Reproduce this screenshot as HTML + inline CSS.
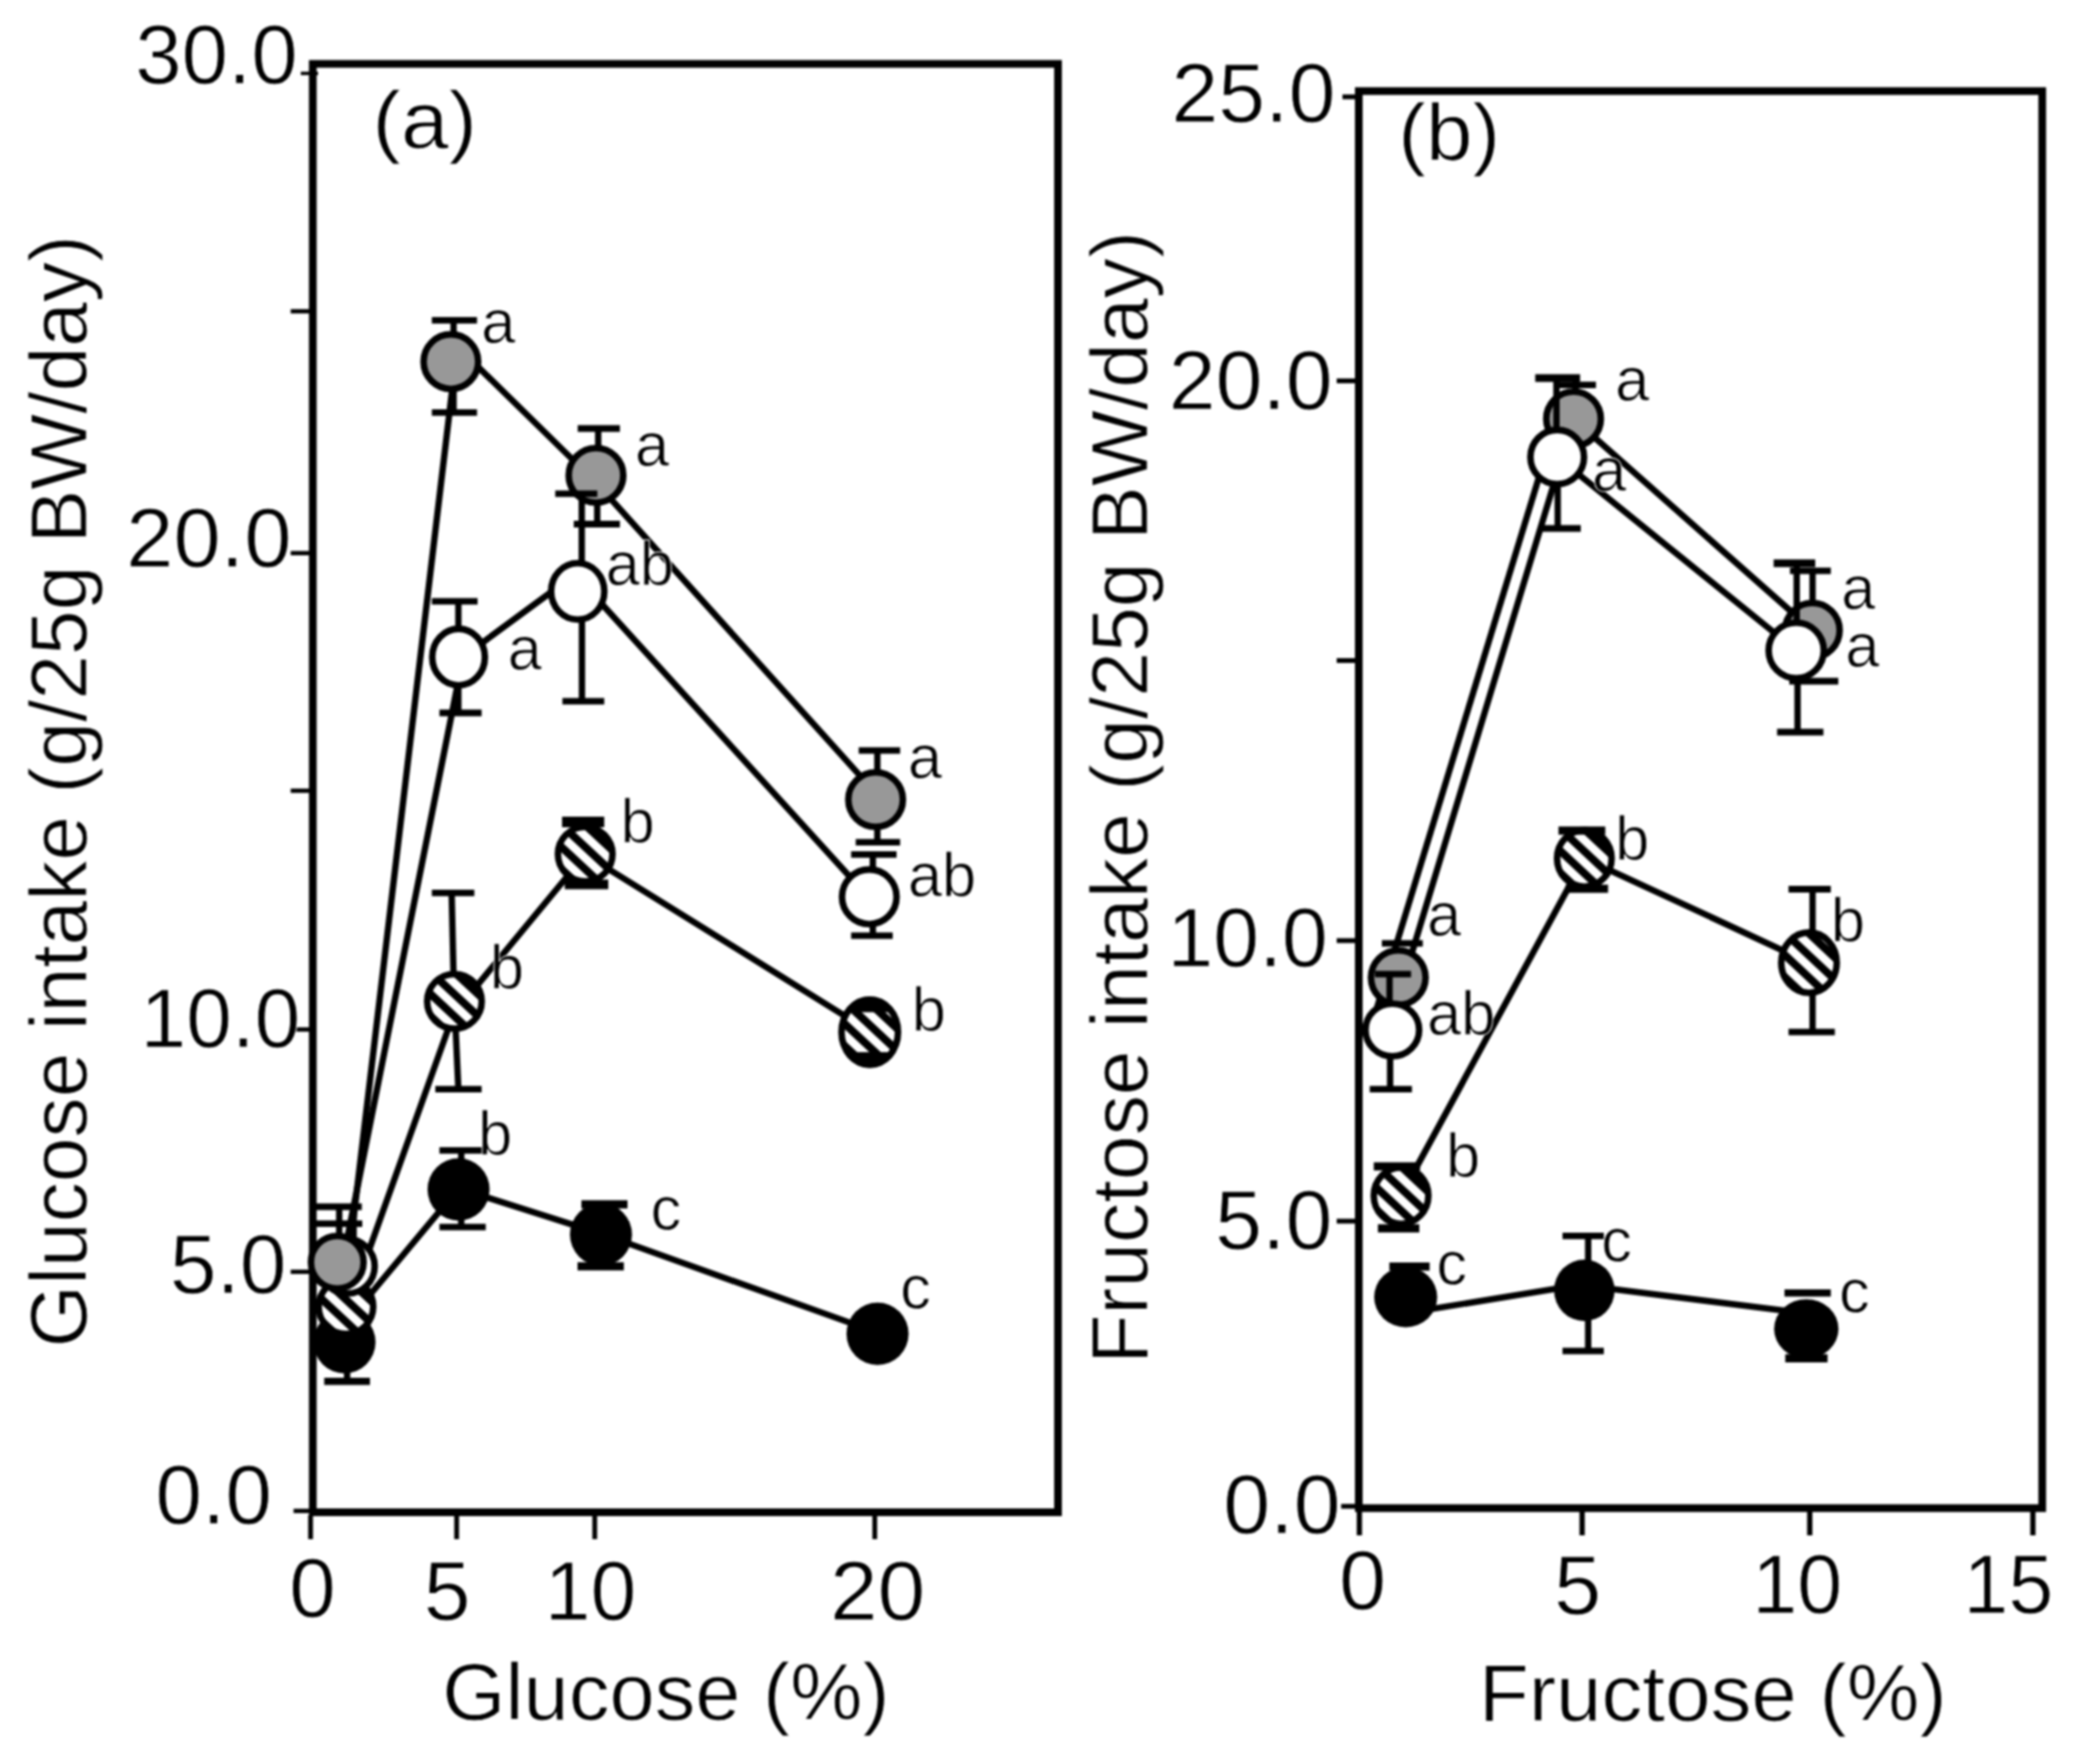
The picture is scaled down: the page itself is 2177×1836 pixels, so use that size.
<!DOCTYPE html>
<html lang="en"><head><meta charset="utf-8"><title>Glucose and fructose intake</title>
<style>html,body{margin:0;padding:0;background:#fff}body{width:2177px;height:1836px;overflow:hidden}svg{display:block;filter:blur(0.8px)}text{font-family:"Liberation Sans",sans-serif;fill:#000;stroke:#fff;stroke-width:0.9px}</style></head><body>
<svg width="2177" height="1836" viewBox="0 0 2177 1836" stroke="#000" fill="none">
<rect x="0" y="0" width="2177" height="1836" fill="#fff" stroke="none"/>
<g id="panel-a">
<rect x="325.5" y="66.5" width="775.5" height="1507.5" stroke-width="8"/>
<line x1="302.5" y1="324" x2="322" y2="324" stroke-width="4.5" stroke-linecap="butt"/>
<line x1="302.5" y1="575.7" x2="322" y2="575.7" stroke-width="4.5" stroke-linecap="butt"/>
<line x1="302.5" y1="823" x2="322" y2="823" stroke-width="4.5" stroke-linecap="butt"/>
<line x1="302.5" y1="1071.5" x2="322" y2="1071.5" stroke-width="4.5" stroke-linecap="butt"/>
<line x1="302.5" y1="1323.7" x2="322" y2="1323.7" stroke-width="4.5" stroke-linecap="butt"/>
<line x1="305.5" y1="1572.6" x2="322" y2="1572.6" stroke-width="4.5" stroke-linecap="butt"/>
<line x1="313" y1="76.4" x2="331" y2="76.4" stroke-width="3.5" stroke-linecap="butt"/>
<line x1="323.2" y1="1577" x2="323.2" y2="1602" stroke-width="5" stroke-linecap="butt"/>
<line x1="475.2" y1="1577" x2="475.2" y2="1602" stroke-width="5" stroke-linecap="butt"/>
<line x1="618.9" y1="1577" x2="618.9" y2="1602" stroke-width="5" stroke-linecap="butt"/>
<line x1="910.3" y1="1577" x2="910.3" y2="1602" stroke-width="5" stroke-linecap="butt"/>
<text transform="translate(140.65,86.50) scale(0.9985,1)" font-size="87">30.0</text>
<text transform="translate(131.18,590.00) scale(1.0170,1)" font-size="87">20.0</text>
<text transform="translate(146.27,1090.00) scale(0.9821,1)" font-size="87">10.0</text>
<text transform="translate(176.68,1346.00) scale(1.0044,1)" font-size="87">5.0</text>
<text transform="translate(161.79,1585.50) scale(1.0026,1)" font-size="87">0.0</text>
<text transform="translate(301.00,1682.50) scale(1.0000,1)" font-size="87">0</text>
<text transform="translate(440.98,1686.00) scale(1.0061,1)" font-size="87">5</text>
<text transform="translate(566.84,1686.00) scale(0.9867,1)" font-size="87">10</text>
<text transform="translate(863.65,1686.00) scale(1.0241,1)" font-size="87">20</text>
<text transform="translate(460.22,1790.00) scale(1.0074,1)" font-size="84">Glucose (%)</text>
<text transform="translate(90.00,1402.43) rotate(-90) scale(0.9959,1)" font-size="84">Glucose intake (g/25g BW/day)</text>
<text transform="translate(387.42,153.50) scale(1.0623,1)" font-size="84">(a)</text>
<polyline points="360,1377.5 477.2,1237 625.4,1284 913.2,1387" stroke-width="6.6" fill="none" stroke-linejoin="round"/>
<polyline points="363,1360 471.9,1055.5 609,889.5 905.1,1073.5" stroke-width="6.6" fill="none" stroke-linejoin="round"/>
<polyline points="356,1316 482,683.6 598.4,598 904.6,934.7" stroke-width="6.6" fill="none" stroke-linejoin="round"/>
<polyline points="362.6,1313 475.9,360.6 620,502 911,825.1" stroke-width="6.6" fill="none" stroke-linejoin="round"/>
<ellipse cx="358.5" cy="1396.9" rx="32.3" ry="32.5" fill="#000" stroke="none"/>
<ellipse cx="477.2" cy="1238" rx="32.3" ry="32.5" fill="#000" stroke="none"/>
<ellipse cx="625.4" cy="1284.9" rx="32.3" ry="32.5" fill="#000" stroke="none"/>
<ellipse cx="913.2" cy="1388.3" rx="32.3" ry="32.5" fill="#000" stroke="none"/>
<g transform="translate(360,1360)"><clipPath id="h360_1360i"><ellipse rx="28.4" ry="28.4"/></clipPath><ellipse rx="28.4" ry="28.4" fill="#fff" stroke="none"/><g clip-path="url(#h360_1360i)"><g transform="rotate(43)" stroke-width="8.2"><line x1="-45" x2="45" y1="-39" y2="-39"/><line x1="-45" x2="45" y1="-22.2" y2="-22.2"/><line x1="-45" x2="45" y1="-5.4" y2="-5.4"/><line x1="-45" x2="45" y1="11.4" y2="11.4"/><line x1="-45" x2="45" y1="28.2" y2="28.2"/></g></g><ellipse rx="28.4" ry="28.4" fill="none" stroke-width="6.8"/></g>
<g transform="translate(472.9,1042.2)"><clipPath id="h472_1042i"><ellipse rx="28.4" ry="28.4"/></clipPath><ellipse rx="28.4" ry="28.4" fill="#fff" stroke="none"/><g clip-path="url(#h472_1042i)"><g transform="rotate(43)" stroke-width="8.2"><line x1="-45" x2="45" y1="-39" y2="-39"/><line x1="-45" x2="45" y1="-22.2" y2="-22.2"/><line x1="-45" x2="45" y1="-5.4" y2="-5.4"/><line x1="-45" x2="45" y1="11.4" y2="11.4"/><line x1="-45" x2="45" y1="28.2" y2="28.2"/></g></g><ellipse rx="28.4" ry="28.4" fill="none" stroke-width="6.8"/></g>
<g transform="translate(609,889)"><clipPath id="h609_889i"><ellipse rx="28.4" ry="28.4"/></clipPath><ellipse rx="28.4" ry="28.4" fill="#fff" stroke="none"/><g clip-path="url(#h609_889i)"><g transform="rotate(43)" stroke-width="8.2"><line x1="-45" x2="45" y1="-39" y2="-39"/><line x1="-45" x2="45" y1="-22.2" y2="-22.2"/><line x1="-45" x2="45" y1="-5.4" y2="-5.4"/><line x1="-45" x2="45" y1="11.4" y2="11.4"/><line x1="-45" x2="45" y1="28.2" y2="28.2"/></g></g><ellipse rx="28.4" ry="28.4" fill="none" stroke-width="6.8"/></g>
<g transform="translate(905.1,1074.3)"><clipPath id="h905_1074i"><ellipse rx="29.4" ry="33.9"/></clipPath><ellipse rx="29.4" ry="33.9" fill="#fff" stroke="none"/><g clip-path="url(#h905_1074i)"><g transform="rotate(43)" stroke-width="8.2"><line x1="-45" x2="45" y1="-39" y2="-39"/><line x1="-45" x2="45" y1="-22.2" y2="-22.2"/><line x1="-45" x2="45" y1="-5.4" y2="-5.4"/><line x1="-45" x2="45" y1="11.4" y2="11.4"/><line x1="-45" x2="45" y1="28.2" y2="28.2"/></g></g><clipPath id="h905_1074o"><ellipse rx="32.8" ry="37.3"/></clipPath><g clip-path="url(#h905_1074o)" fill="#000" stroke="none"><rect x="-45" y="-38.3" width="90" height="17.5"/><rect x="-45" y="20.799999999999997" width="90" height="17.5"/></g><ellipse rx="29.4" ry="33.9" fill="none" stroke-width="6.8"/></g>
<ellipse cx="361.5" cy="1318" rx="28.4" ry="28.4" fill="#fff" stroke-width="6.8"/>
<ellipse cx="477.2" cy="683.9" rx="27.4" ry="29.4" fill="#fff" stroke-width="6.8"/>
<ellipse cx="601.2" cy="615.5" rx="27.7" ry="29.3" fill="#fff" stroke-width="6.8"/>
<ellipse cx="904.6" cy="933.4" rx="28.4" ry="28.4" fill="#fff" stroke-width="6.8"/>
<ellipse cx="351" cy="1313.7" rx="27.4" ry="27.4" fill="#989898" stroke-width="6.8"/>
<ellipse cx="469.2" cy="376.4" rx="28.4" ry="28.4" fill="#989898" stroke-width="6.8"/>
<ellipse cx="620.2" cy="494.8" rx="28.4" ry="28.4" fill="#989898" stroke-width="6.8"/>
<ellipse cx="911.2" cy="832.2" rx="28.4" ry="28.4" fill="#989898" stroke-width="6.8"/>
<line x1="329" y1="1256" x2="376.5" y2="1256" stroke-width="6.8" stroke-linecap="butt"/>
<line x1="329" y1="1273.7" x2="377" y2="1273.7" stroke-width="6.8" stroke-linecap="butt"/>
<line x1="353" y1="1256" x2="353" y2="1284" stroke-width="6.6" stroke-linecap="butt"/>
<line x1="368" y1="1254" x2="368" y2="1290" stroke-width="6.6" stroke-linecap="butt"/>
<line x1="337.4" y1="1437.7" x2="385" y2="1437.7" stroke-width="7.5" stroke-linecap="butt"/>
<line x1="361.2" y1="1425" x2="361.2" y2="1437.7" stroke-width="6.6" stroke-linecap="butt"/>
<line x1="449.4" y1="333.3" x2="496.4" y2="333.3" stroke-width="6.8" stroke-linecap="butt"/>
<line x1="472" y1="333.3" x2="472" y2="348" stroke-width="6.6" stroke-linecap="butt"/>
<line x1="472" y1="405" x2="472" y2="429.4" stroke-width="6.6" stroke-linecap="butt"/>
<line x1="449.4" y1="429.4" x2="496.4" y2="429.4" stroke-width="6.8" stroke-linecap="butt"/>
<line x1="601.2" y1="446" x2="645.1" y2="446" stroke-width="6.8" stroke-linecap="butt"/>
<line x1="622.5" y1="446" x2="622.5" y2="465" stroke-width="6.6" stroke-linecap="butt"/>
<line x1="621.5" y1="524" x2="621.5" y2="545.5" stroke-width="6.6" stroke-linecap="butt"/>
<line x1="597.1" y1="545.5" x2="645.1" y2="545.5" stroke-width="6.8" stroke-linecap="butt"/>
<line x1="893.6" y1="781.2" x2="936.7" y2="781.2" stroke-width="6.8" stroke-linecap="butt"/>
<line x1="913" y1="781.2" x2="913" y2="803" stroke-width="6.6" stroke-linecap="butt"/>
<line x1="913" y1="861" x2="913" y2="876.7" stroke-width="6.6" stroke-linecap="butt"/>
<line x1="890.5" y1="876.7" x2="936.7" y2="876.7" stroke-width="6.8" stroke-linecap="butt"/>
<line x1="449.4" y1="625.8" x2="497" y2="625.8" stroke-width="6.8" stroke-linecap="butt"/>
<line x1="477" y1="625.8" x2="477" y2="654" stroke-width="6.6" stroke-linecap="butt"/>
<line x1="477" y1="713" x2="477" y2="742" stroke-width="6.6" stroke-linecap="butt"/>
<line x1="457.3" y1="742" x2="501.2" y2="742" stroke-width="6.8" stroke-linecap="butt"/>
<line x1="577.8" y1="513.9" x2="621.6" y2="513.9" stroke-width="6.8" stroke-linecap="butt"/>
<line x1="605.4" y1="513.9" x2="605.4" y2="586" stroke-width="6.6" stroke-linecap="butt"/>
<line x1="605.6" y1="645" x2="605.6" y2="729.8" stroke-width="6.6" stroke-linecap="butt"/>
<line x1="585.3" y1="729.8" x2="628.8" y2="729.8" stroke-width="6.8" stroke-linecap="butt"/>
<line x1="885.7" y1="889.4" x2="933" y2="889.4" stroke-width="6.8" stroke-linecap="butt"/>
<line x1="908.3" y1="889.4" x2="908.3" y2="904" stroke-width="6.6" stroke-linecap="butt"/>
<line x1="908.3" y1="962" x2="908.3" y2="973.9" stroke-width="6.6" stroke-linecap="butt"/>
<line x1="885.7" y1="973.9" x2="929" y2="973.9" stroke-width="6.8" stroke-linecap="butt"/>
<line x1="449.4" y1="929.4" x2="493.6" y2="929.4" stroke-width="6.8" stroke-linecap="butt"/>
<line x1="470" y1="929.4" x2="471.9" y2="1012" stroke-width="6.6" stroke-linecap="butt"/>
<line x1="474.2" y1="1072" x2="477" y2="1133.7" stroke-width="6.6" stroke-linecap="butt"/>
<line x1="453" y1="1133.7" x2="501.2" y2="1133.7" stroke-width="6.8" stroke-linecap="butt"/>
<line x1="584.9" y1="855.5" x2="628.8" y2="855.5" stroke-width="11" stroke-linecap="butt"/>
<line x1="587.7" y1="920.5" x2="633" y2="920.5" stroke-width="10" stroke-linecap="butt"/>
<line x1="457.3" y1="1197.4" x2="504" y2="1197.4" stroke-width="6.8" stroke-linecap="butt"/>
<line x1="480" y1="1197.4" x2="480" y2="1210" stroke-width="6.6" stroke-linecap="butt"/>
<line x1="480" y1="1265" x2="480" y2="1277.2" stroke-width="6.6" stroke-linecap="butt"/>
<line x1="457.3" y1="1277.2" x2="505.5" y2="1277.2" stroke-width="6.8" stroke-linecap="butt"/>
<line x1="605" y1="1253.5" x2="653" y2="1253.5" stroke-width="8.5" stroke-linecap="butt"/>
<line x1="601" y1="1318" x2="649.2" y2="1318" stroke-width="8.5" stroke-linecap="butt"/>
<text x="500.75" y="356.50" font-size="64">a</text>
<text x="660.85" y="484.50" font-size="64">a</text>
<text x="944.65" y="809.50" font-size="64">a</text>
<text x="528.25" y="697.00" font-size="64">a</text>
<text x="630.25" y="608.50" font-size="64">ab</text>
<text x="944.65" y="933.00" font-size="64">ab</text>
<text x="509.75" y="1029.00" font-size="64">b</text>
<text x="645.75" y="877.00" font-size="64">b</text>
<text x="948.75" y="1073.00" font-size="64">b</text>
<text x="497.55" y="1202.00" font-size="64">b</text>
<text x="677.05" y="1280.00" font-size="64">c</text>
<text x="936.75" y="1362.00" font-size="64">c</text>
</g>
<g id="panel-b">
<rect x="1414" y="94.8" width="711.1999999999998" height="1474.9" stroke-width="8"/>
<line x1="1391" y1="396.4" x2="1410.5" y2="396.4" stroke-width="5" stroke-linecap="butt"/>
<line x1="1391" y1="687.5" x2="1410.5" y2="687.5" stroke-width="5" stroke-linecap="butt"/>
<line x1="1391" y1="979" x2="1410.5" y2="979" stroke-width="5" stroke-linecap="butt"/>
<line x1="1391" y1="1271" x2="1410.5" y2="1271" stroke-width="5" stroke-linecap="butt"/>
<line x1="1395.6" y1="1567.8" x2="1410.5" y2="1567.8" stroke-width="5" stroke-linecap="butt"/>
<line x1="1397" y1="100.8" x2="1410.5" y2="100.8" stroke-width="5" stroke-linecap="butt"/>
<line x1="1414.6" y1="1573" x2="1414.6" y2="1598" stroke-width="5.5" stroke-linecap="butt"/>
<line x1="1646.4" y1="1573" x2="1646.4" y2="1598" stroke-width="5.5" stroke-linecap="butt"/>
<line x1="1883.3" y1="1573" x2="1883.3" y2="1598" stroke-width="5.5" stroke-linecap="butt"/>
<line x1="2115.5" y1="1573" x2="2115.5" y2="1598" stroke-width="5.5" stroke-linecap="butt"/>
<text transform="translate(1219.02,126.50) scale(1.0077,1)" font-size="87">25.0</text>
<text transform="translate(1216.22,426.00) scale(1.0077,1)" font-size="87">20.0</text>
<text transform="translate(1214.85,1005.50) scale(0.9859,1)" font-size="87">10.0</text>
<text transform="translate(1264.47,1300.00) scale(1.0088,1)" font-size="87">5.0</text>
<text transform="translate(1272.97,1595.50) scale(1.0088,1)" font-size="87">0.0</text>
<text transform="translate(1393.46,1674.80) scale(1.0120,1)" font-size="87">0</text>
<text transform="translate(1617.25,1679.50) scale(1.0133,1)" font-size="87">5</text>
<text transform="translate(1823.46,1678.50) scale(0.9683,1)" font-size="87">10</text>
<text transform="translate(2043.18,1678.50) scale(0.9665,1)" font-size="87">15</text>
<text transform="translate(1538.91,1790.50) scale(1.0130,1)" font-size="84">Fructose (%)</text>
<text transform="translate(1193.50,1419.39) rotate(-90) scale(0.9983,1)" font-size="84">Fructose intake (g/25g BW/day)</text>
<text transform="translate(1455.08,166.50) scale(1.0331,1)" font-size="84">(b)</text>
<polyline points="1462.8,1366.8 1648.7,1336.5" stroke-width="6.6" fill="none" stroke-linejoin="round"/>
<polyline points="1648.7,1338 1880,1367" stroke-width="6.6" fill="none" stroke-linejoin="round"/>
<polyline points="1458,1244.4 1648.7,893.4 1882.5,1001.9" stroke-width="6.6" fill="none" stroke-linejoin="round"/>
<polyline points="1461.5,1017.5 1637.5,436 1886,656" stroke-width="6.6" fill="none" stroke-linejoin="round"/>
<polyline points="1432,1052 1602,495" stroke-width="6.6" fill="none" stroke-linejoin="round"/>
<polyline points="1620.5,475.7 1869.2,677" stroke-width="6.6" fill="none" stroke-linejoin="round"/>
<ellipse cx="1462.8" cy="1350" rx="32.8" ry="31.5" fill="#000" stroke="none"/>
<ellipse cx="1648.7" cy="1343" rx="31.5" ry="32.0" fill="#000" stroke="none"/>
<ellipse cx="1879.7" cy="1383.2" rx="33.5" ry="31.0" fill="#000" stroke="none"/>
<g transform="translate(1458,1244.4)"><clipPath id="h1458_1244i"><ellipse rx="28.4" ry="29.4"/></clipPath><ellipse rx="28.4" ry="29.4" fill="#fff" stroke="none"/><g clip-path="url(#h1458_1244i)"><g transform="rotate(43)" stroke-width="8.2"><line x1="-45" x2="45" y1="-39" y2="-39"/><line x1="-45" x2="45" y1="-22.2" y2="-22.2"/><line x1="-45" x2="45" y1="-5.4" y2="-5.4"/><line x1="-45" x2="45" y1="11.4" y2="11.4"/><line x1="-45" x2="45" y1="28.2" y2="28.2"/></g></g><ellipse rx="28.4" ry="29.4" fill="none" stroke-width="6.8"/></g>
<g transform="translate(1648.7,893.4)"><clipPath id="h1648_893i"><ellipse rx="28.4" ry="29.4"/></clipPath><ellipse rx="28.4" ry="29.4" fill="#fff" stroke="none"/><g clip-path="url(#h1648_893i)"><g transform="rotate(43)" stroke-width="8.2"><line x1="-45" x2="45" y1="-39" y2="-39"/><line x1="-45" x2="45" y1="-22.2" y2="-22.2"/><line x1="-45" x2="45" y1="-5.4" y2="-5.4"/><line x1="-45" x2="45" y1="11.4" y2="11.4"/><line x1="-45" x2="45" y1="28.2" y2="28.2"/></g></g><ellipse rx="28.4" ry="29.4" fill="none" stroke-width="6.8"/></g>
<g transform="translate(1882.5,1001.9)"><clipPath id="h1882_1001i"><ellipse rx="28.9" ry="31.4"/></clipPath><ellipse rx="28.9" ry="31.4" fill="#fff" stroke="none"/><g clip-path="url(#h1882_1001i)"><g transform="rotate(43)" stroke-width="8.2"><line x1="-45" x2="45" y1="-39" y2="-39"/><line x1="-45" x2="45" y1="-22.2" y2="-22.2"/><line x1="-45" x2="45" y1="-5.4" y2="-5.4"/><line x1="-45" x2="45" y1="11.4" y2="11.4"/><line x1="-45" x2="45" y1="28.2" y2="28.2"/></g></g><ellipse rx="28.9" ry="31.4" fill="none" stroke-width="6.8"/></g>
<ellipse cx="1455.1" cy="1017.5" rx="28.4" ry="28.4" fill="#989898" stroke-width="6.8"/>
<ellipse cx="1637.5" cy="436" rx="28.4" ry="28.4" fill="#989898" stroke-width="6.8"/>
<ellipse cx="1886" cy="656" rx="28.4" ry="28.4" fill="#989898" stroke-width="6.8"/>
<line x1="1431" y1="1013.8" x2="1468.4" y2="1013.8" stroke-width="6.8" stroke-linecap="butt"/>
<line x1="1446" y1="1013.8" x2="1446" y2="1046" stroke-width="6.6" stroke-linecap="butt"/>
<line x1="1597.6" y1="393.5" x2="1644.3" y2="393.5" stroke-width="8" stroke-linecap="butt"/>
<line x1="1619.7" y1="393.5" x2="1619.7" y2="450" stroke-width="6.6" stroke-linecap="butt"/>
<line x1="1845.7" y1="586.3" x2="1889" y2="586.3" stroke-width="8" stroke-linecap="butt"/>
<line x1="1869.7" y1="586.3" x2="1869.7" y2="650" stroke-width="6.6" stroke-linecap="butt"/>
<line x1="1862" y1="709" x2="1913" y2="709" stroke-width="6.8" stroke-linecap="butt"/>
<ellipse cx="1448.9" cy="1072" rx="27.9" ry="27.4" fill="#fff" stroke-width="6.8"/>
<ellipse cx="1620.5" cy="475.7" rx="27.9" ry="28.2" fill="#fff" stroke-width="6.8"/>
<ellipse cx="1869.2" cy="677" rx="28.7" ry="28.9" fill="#fff" stroke-width="6.8"/>
<line x1="1438" y1="981.8" x2="1480.6" y2="981.8" stroke-width="6.8" stroke-linecap="butt"/>
<line x1="1446.6" y1="1099" x2="1446.6" y2="1133.7" stroke-width="6.6" stroke-linecap="butt"/>
<line x1="1425.4" y1="1133.7" x2="1469.3" y2="1133.7" stroke-width="6.8" stroke-linecap="butt"/>
<line x1="1429.6" y1="1214" x2="1477.8" y2="1214" stroke-width="8.5" stroke-linecap="butt"/>
<line x1="1433.9" y1="1278.4" x2="1477" y2="1278.4" stroke-width="8.5" stroke-linecap="butt"/>
<line x1="1445.8" y1="1318.3" x2="1487.7" y2="1318.3" stroke-width="8.5" stroke-linecap="butt"/>
<line x1="1618" y1="400.6" x2="1660.8" y2="400.6" stroke-width="6.8" stroke-linecap="butt"/>
<line x1="1639.5" y1="397" x2="1639.5" y2="408" stroke-width="6.6" stroke-linecap="butt"/>
<line x1="1621" y1="503" x2="1621" y2="550" stroke-width="6.6" stroke-linecap="butt"/>
<line x1="1604" y1="550" x2="1645" y2="550" stroke-width="6.8" stroke-linecap="butt"/>
<line x1="1621.8" y1="864.5" x2="1670.5" y2="864.5" stroke-width="8.5" stroke-linecap="butt"/>
<line x1="1629.4" y1="925" x2="1673.4" y2="925" stroke-width="8.5" stroke-linecap="butt"/>
<line x1="1626" y1="1286.3" x2="1669" y2="1286.3" stroke-width="6.8" stroke-linecap="butt"/>
<line x1="1652.7" y1="1286.3" x2="1652.7" y2="1313" stroke-width="6.6" stroke-linecap="butt"/>
<line x1="1652.7" y1="1373" x2="1652.7" y2="1406.2" stroke-width="6.6" stroke-linecap="butt"/>
<line x1="1626" y1="1406.2" x2="1669" y2="1406.2" stroke-width="6.8" stroke-linecap="butt"/>
<line x1="1862.7" y1="594.2" x2="1905.2" y2="594.2" stroke-width="6.8" stroke-linecap="butt"/>
<line x1="1886.2" y1="594.2" x2="1886.2" y2="627" stroke-width="6.6" stroke-linecap="butt"/>
<line x1="1870.6" y1="705" x2="1870.6" y2="762" stroke-width="6.6" stroke-linecap="butt"/>
<line x1="1849.3" y1="762" x2="1897.5" y2="762" stroke-width="6.8" stroke-linecap="butt"/>
<line x1="1861.2" y1="925.5" x2="1905.2" y2="925.5" stroke-width="6.8" stroke-linecap="butt"/>
<line x1="1886.2" y1="925.5" x2="1886.2" y2="970" stroke-width="6.6" stroke-linecap="butt"/>
<line x1="1886.2" y1="1033" x2="1886.2" y2="1074.2" stroke-width="6.6" stroke-linecap="butt"/>
<line x1="1861.2" y1="1074.2" x2="1909.4" y2="1074.2" stroke-width="6.8" stroke-linecap="butt"/>
<line x1="1857" y1="1345.7" x2="1905.2" y2="1345.7" stroke-width="7.5" stroke-linecap="butt"/>
<line x1="1857.8" y1="1413.8" x2="1901.8" y2="1413.8" stroke-width="8.5" stroke-linecap="butt"/>
<text x="1484.95" y="973.50" font-size="64">a</text>
<text x="1484.95" y="1077.00" font-size="64">ab</text>
<text x="1504.75" y="1224.50" font-size="64">b</text>
<text x="1494.85" y="1336.50" font-size="64">c</text>
<text x="1680.65" y="417.00" font-size="64">a</text>
<text x="1656.65" y="510.50" font-size="64">a</text>
<text x="1680.75" y="894.50" font-size="64">b</text>
<text x="1666.25" y="1312.50" font-size="64">c</text>
<text x="1916.05" y="634.00" font-size="64">a</text>
<text x="1920.25" y="693.50" font-size="64">a</text>
<text x="1905.15" y="980.00" font-size="64">b</text>
<text x="1913.75" y="1365.50" font-size="64">c</text>
</g>
</svg></body></html>
